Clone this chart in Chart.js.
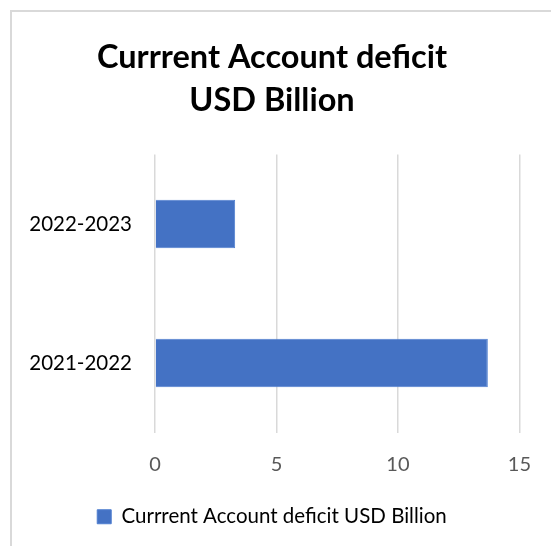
<!DOCTYPE html>
<html>
<head>
<meta charset="utf-8">
<script src="https://cdn.jsdelivr.net/npm/chart.js@4"></script>
<style>
  html, body { margin: 0; padding: 0; background: #fff; }
  #wrap { position: relative; width: 551px; height: 546px; overflow: hidden; }
  #frame { position: absolute; left: 10px; top: 10px; width: 600px; height: 600px;
           border-left: 2px solid #d9d9d9; border-top: 2px solid #d9d9d9; }
  canvas { position: absolute; left: 0; top: 0; }
</style>
</head>
<body>
<div id="wrap">
  <div id="frame"></div>
  <canvas id="chart" width="551" height="546"></canvas>
</div>
<script>
// Données
const categories = ['2022-2023', '2021-2022'];
const deficit = [3.3, 13.7];
const seriesLabel = 'Currrent Account deficit USD Billion';
const titleLines = ['Currrent Account deficit', 'USD Billion'];

const uiFont = 'Lato, "Open Sans", sans-serif';

new Chart(document.getElementById('chart'), {
    type: 'bar',
    data: {
        labels: categories,
        datasets: [{
            label: seriesLabel,
            data: deficit,
            backgroundColor: '#4472c4',
            borderColor: '#4f7fd0',
            borderWidth: 1,
            categoryPercentage: 1,
            barPercentage: 0.35,
        }],
    },
    options: {
        indexAxis: 'y',
        responsive: false,
        animation: false,
        layout: { padding: { top: 36, right: 29, bottom: 9, left: 22 } },
        plugins: {
            title: {
                display: true,
                text: titleLines,
                color: '#000',
                font: { family: uiFont, size: 32.5, weight: 'bold', lineHeight: 1.33 },
                padding: { top: 0, bottom: 32 },
            },
            legend: {
                position: 'bottom',
                labels: {
                    color: '#000',
                    boxWidth: 14,
                    boxHeight: 14,
                    padding: 10,
                    font: { family: uiFont, size: 20.5 },
                },
            },
            tooltip: { enabled: false },
        },
        scales: {
            x: {
                min: 0,
                max: 15,
                ticks: {
                    stepSize: 5,
                    color: '#595959',
                    padding: 20,
                    font: { family: uiFont, size: 20 },
                },
                grid: { color: '#d9d9d9', lineWidth: 1.5, drawTicks: false },
                border: { display: false },
            },
            y: {
                ticks: {
                    color: '#000',
                    padding: 23,
                    font: { family: uiFont, size: 20.5 },
                },
                grid: { display: false, drawTicks: false },
                border: { display: false },
                afterFit: axis => { axis.width = 133; },
            },
        },
    },
});
</script>
</body>
</html>
